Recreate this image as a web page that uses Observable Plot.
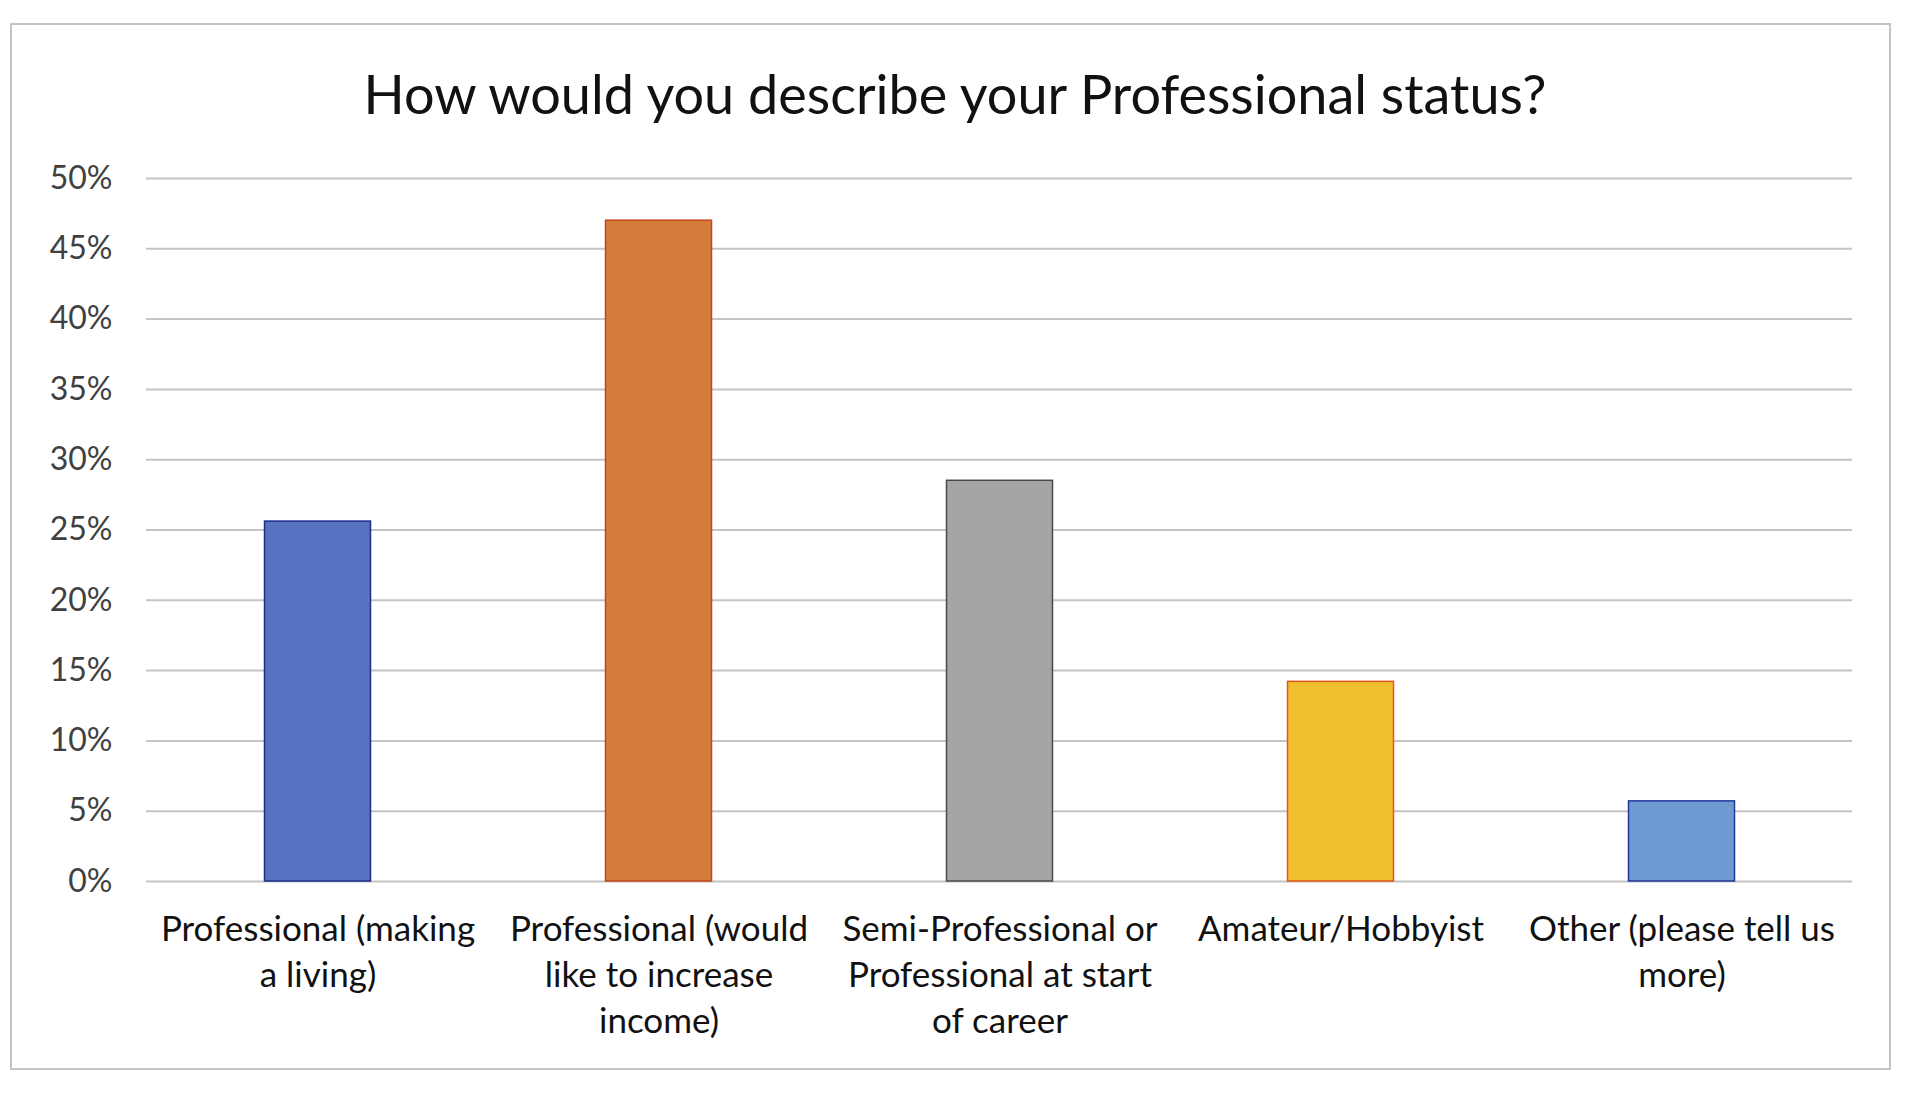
<!DOCTYPE html>
<html>
<head>
<meta charset="utf-8">
<script src="https://cdn.jsdelivr.net/npm/d3@7"></script>
<script src="https://cdn.jsdelivr.net/npm/@observablehq/plot@0.6"></script>
<style>
  html, body { margin: 0; padding: 0; background: #fff; }
  #page { position: relative; width: 1910px; height: 1093px; background: #fff; font-family: Lato, "Open Sans", sans-serif; }
  #frame { position: absolute; left: 10px; top: 23px; width: 1877px; height: 1043px; border: 2px solid #c4c4c4; }
  #title { position: absolute; left: 0; width: 1910px; top: 64px; text-align: center; font-size: 54px; color: #111; line-height: 60px; white-space: nowrap; }
  #chart { position: absolute; left: 0; top: 130px; }
</style>
</head>
<body>
<div id="page">
  <div id="frame"></div>
  <div id="title">How would you describe your Professional status?</div>
  <div id="chart"></div>
</div>
<script>
// Survey responses: share of respondents per professional status
const categories = [
  "Professional (making a living)",
  "Professional (would like to increase income)",
  "Semi-Professional or Professional at start of career",
  "Amateur/Hobbyist",
  "Other (please tell us more)"
];
const shares = [0.256, 0.470, 0.285, 0.142, 0.057];
const tickLabels = [
  "Professional (making\na living)",
  "Professional (would\nlike to increase\nincome)",
  "Semi-Professional or\nProfessional at start\nof career",
  "Amateur/Hobbyist",
  "Other (please tell us\nmore)"
];
const yTicks = [0, 0.05, 0.10, 0.15, 0.20, 0.25, 0.30, 0.35, 0.40, 0.45, 0.50];
const fills = ["#5673c2", "#d67c3b", "#a5a5a5", "#efbf2e", "#709bd2"];
const strokes = ["#1f2c8a", "#c0441c", "#4a4a4a", "#e2581c", "#23389a"];

const data = categories.map((c, i) => ({category: c, share: shares[i], fill: fills[i], stroke: strokes[i]}));
const labelOf = new Map(categories.map((c, i) => [c, tickLabels[i]]));

const chart = Plot.plot({
  width: 1910,
  height: 940,
  marginLeft: 146,
  marginRight: 58,
  marginTop: 48,
  marginBottom: 189,
  style: {fontFamily: "Lato, 'Open Sans', sans-serif", background: "transparent"},
  x: {domain: categories, padding: 0, label: null},
  y: {domain: [0, 0.5], label: null},
  marks: [
    Plot.ruleY(yTicks, {stroke: "#c4c4c4", strokeWidth: 2}),
    Plot.barY(data, {
      x: "category", y: "share",
      fill: "fill", stroke: "stroke", strokeWidth: 1.5,
      insetLeft: 117.5, insetRight: 117.5
    }),
    Plot.axisY({
      ticks: yTicks, tickSize: 0, tickPadding: 34,
      tickFormat: d => Math.round(d * 100) + "%",
      fontSize: 32, fill: "#404040", label: null
    }),
    Plot.axisX({
      tickSize: 0, tickPadding: 27,
      tickFormat: d => labelOf.get(d),
      fontSize: 35, lineHeight: 1.31, fill: "#111", label: null
    })
  ]
});
document.getElementById("chart").appendChild(chart);
</script>
</body>
</html>
